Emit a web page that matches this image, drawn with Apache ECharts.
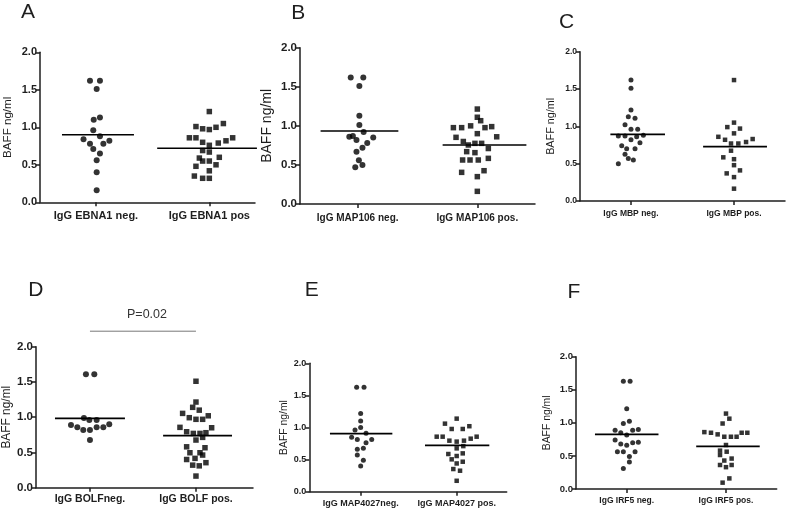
<!DOCTYPE html>
<html>
<head>
    <meta charset="utf-8">
    <title></title>
    <script src="https://cdn.jsdelivr.net/npm/echarts@6.0.0/dist/echarts.min.js"></script>
</head>
<body style="margin:0">
    <div id="main" style="width: 787px;height:509px;"></div>
    <script type="text/javascript">
// tick labels of every y axis
var yTicks = [0, 0.5, 1.0, 1.5, 2.0]
var letters = ['A', 'B', 'C', 'D', 'E', 'F']
var yName = 'BAFF ng/ml'
var pText = 'P=0.02'

var catsA = ['IgG EBNA1 neg.', 'IgG EBNA1 pos']
var catsB = ['IgG MAP106 neg.', 'IgG MAP106 pos.']
var catsC = ['IgG MBP neg.', 'IgG MBP pos.']
var catsD = ['IgG BOLFneg.', 'IgG BOLF pos.']
var catsE = ['IgG MAP4027neg.', 'IgG MAP4027 pos.']
var catsF = ['IgG IRF5 neg.', 'IgG IRF5 pos.']

// [horizontal spread around the group, BAFF value]
var negA = [[-0.053,1.62],[0.035,1.62],[0.006,1.51],[-0.02,1.10],[0.035,1.13],[-0.024,0.96],[0.035,0.88],[-0.11,0.84],[0.118,0.82],[-0.053,0.78],[0.065,0.78],[-0.024,0.71],[0.035,0.65],[0.006,0.56],[0.006,0.40],[0.006,0.16]]
var posA = [[0,1.21],[-0.118,1.01],[-0.059,0.98],[0,0.97],[0.059,1.00],[0.124,1.05],[-0.176,0.86],[-0.118,0.86],[0.206,0.86],[0.147,0.82],[-0.059,0.80],[0,0.76],[0.079,0.79],[-0.059,0.69],[0,0.67],[-0.088,0.59],[0.088,0.60],[-0.059,0.55],[0,0.55],[-0.118,0.48],[0.059,0.50],[0,0.42],[-0.132,0.35],[-0.059,0.32],[0,0.32]]
var negB = [[-0.058,1.62],[0.047,1.62],[0.014,1.51],[0.014,1.13],[0.014,1.01],[0.05,0.92],[-0.07,0.86],[-0.04,0.87],[0.13,0.85],[-0.01,0.82],[0.08,0.78],[0.04,0.72],[-0.01,0.67],[0.01,0.56],[0.04,0.50],[-0.02,0.47]]
var posB = [[0,1.215],[0,1.11],[0.028,1.066],[-0.2,0.977],[-0.131,0.977],[-0.056,1.0],[0.064,0.977],[0.12,0.99],[0,0.90],[-0.178,0.853],[0.162,0.86],[-0.117,0.80],[-0.075,0.755],[-0.02,0.776],[0.036,0.776],[0.092,0.71],[-0.089,0.67],[-0.02,0.657],[-0.123,0.563],[-0.061,0.563],[0.008,0.563],[0.092,0.584],[-0.131,0.405],[0.056,0.426],[0,0.35],[0,0.162]]
var negC = [[0,1.62],[0,1.51],[0,1.22],[-0.026,1.13],[0.039,1.11],[-0.058,1.02],[0,0.96],[0.065,0.96],[-0.123,0.87],[-0.058,0.87],[0.055,0.86],[0.12,0.88],[0,0.82],[0.087,0.78],[-0.09,0.74],[-0.042,0.70],[0.039,0.70],[-0.058,0.625],[-0.026,0.57],[0.023,0.55],[-0.123,0.50]]
var posC = [[0,1.62],[0,1.05],[-0.065,0.99],[0.058,0.97],[-0.152,0.86],[-0.087,0.82],[0,0.906],[-0.029,0.77],[0.042,0.77],[0.117,0.79],[0.181,0.83],[-0.029,0.674],[-0.104,0.585],[0,0.56],[0,0.48],[-0.071,0.37],[0.058,0.41],[0,0.32],[0,0.165]]
var negD = [[-0.038,1.61],[0.041,1.61],[-0.057,0.99],[-0.006,0.96],[0.063,0.96],[-0.179,0.89],[-0.119,0.856],[-0.063,0.82],[0,0.82],[0.063,0.856],[0.126,0.856],[0.182,0.90],[0,0.676]]
var posD = [[0,1.51],[0,1.215],[-0.031,1.14],[0.031,1.10],[-0.126,1.054],[-0.063,0.993],[0,0.97],[0.063,0.97],[0.116,1.02],[-0.151,0.856],[0.148,0.85],[-0.088,0.794],[-0.025,0.77],[0.038,0.77],[0.094,0.78],[0,0.676],[0.063,0.714],[-0.088,0.58],[0.085,0.567],[-0.057,0.496],[0.038,0.496],[-0.088,0.40],[-0.009,0.416],[0.063,0.463],[-0.031,0.32],[0.031,0.31],[0.094,0.355],[0,0.165]]
var negE = [[-0.042,1.626],[0.035,1.626],[0,1.22],[0,1.10],[0,1.0],[-0.059,0.96],[-0.094,0.847],[-0.035,0.815],[0.056,0.91],[0.115,0.815],[0.056,0.764],[-0.035,0.66],[0.028,0.675],[-0.035,0.57],[0.028,0.49],[0,0.40]]
var posE = [[0,1.138],[-0.122,1.06],[-0.052,0.977],[0.063,0.977],[0.132,1.02],[-0.208,0.857],[-0.146,0.857],[0.208,0.857],[0.146,0.826],[-0.076,0.795],[0,0.78],[0.076,0.795],[0,0.675],[0.069,0.71],[-0.087,0.587],[0,0.556],[0.063,0.597],[-0.052,0.504],[0,0.44],[0.063,0.467],[-0.035,0.353],[0.035,0.327],[0,0.17]]
var negF = [[-0.034,1.627],[0.034,1.627],[0,1.214],[0.027,1.023],[-0.034,0.99],[-0.117,0.89],[-0.06,0.85],[0,0.816],[0.06,0.89],[0.117,0.90],[-0.117,0.74],[-0.06,0.68],[0,0.66],[0.06,0.70],[0.117,0.705],[-0.094,0.564],[-0.034,0.564],[0.084,0.564],[0.027,0.49],[0.027,0.41],[-0.034,0.31]]
var posF = [[0,1.14],[0.034,1.063],[-0.034,0.99],[-0.218,0.86],[-0.151,0.85],[-0.084,0.826],[-0.017,0.79],[0.05,0.79],[0.107,0.79],[0.158,0.85],[0.215,0.85],[0,0.665],[-0.06,0.58],[0.007,0.564],[-0.06,0.514],[0.057,0.46],[-0.017,0.43],[-0.06,0.363],[0,0.33],[0.057,0.363],[0.034,0.16],[-0.034,0.096]]

// group means (neg, pos)
var meanA = [0.90, 0.72]
var meanB = [0.934, 0.755]
var meanC = [0.893, 0.728]
var meanD = [0.983, 0.738]
var meanE = [0.904, 0.722]
var meanF = [0.826, 0.645]

var pBracketY = 2.22

// layout of each panel
var panels = [
  {cats: catsA, neg: negA, pos: posA, mean: meanA, grid: [40, 52.3, 215, 150], xr: [0.506, 2.403], tick: 11, cat: 11, name: 11.6, gap: 26.5, lm: 8, sym: 6, mw: [[0.30, 0.335], [0.46, 0.42]], lp: [28, 12]},
  {cats: catsB, neg: negB, pos: posB, mean: meanB, grid: [300, 47.7, 235, 156.3], xr: [0.518, 2.482], tick: 11.5, cat: 10, name: 14, gap: 26, lm: 9, sym: 6, mw: [[0.31, 0.34], [0.29, 0.41]], lp: [298.3, 13.3]},
  {cats: catsC, neg: negC, pos: posC, mean: meanC, grid: [580, 51.7, 205, 149.3], xr: [0.505, 2.495], tick: 8.5, cat: 8.5, name: 10.8, gap: 23.7, lm: 8, sym: 5, mw: [[0.20, 0.33], [0.30, 0.32]], lp: [566.7, 22.5]},
  {cats: catsD, neg: negD, pos: posD, mean: meanD, grid: [36, 346.7, 217, 141], xr: [0.491, 2.538], tick: 11.5, cat: 10.5, name: 11.9, gap: 22.5, lm: 6, sym: 6, mw: [[0.33, 0.33], [0.31, 0.34]], lp: [35.8, 290.3]},
  {cats: catsE, neg: negE, pos: posE, mean: meanE, grid: [309.3, 363.3, 197.4, 128.4], xr: [0.465, 2.521], tick: 9, cat: 9, name: 10.4, gap: 20, lm: 7, sym: 5, mw: [[0.32, 0.33], [0.33, 0.34]], lp: [311.7, 290.3]},
  {cats: catsF, neg: negF, pos: posF, mean: meanF, grid: [576, 356.7, 200.7, 132.3], xr: [0.489, 2.511], tick: 9.5, cat: 8.5, name: 10.4, gap: 23.6, lm: 7.5, sym: 5, mw: [[0.32, 0.32], [0.30, 0.34]], lp: [574, 292.5]}
]

var ink = '#1e1e1e'
var font = 'Liberation Sans, Arial, sans-serif'

var grids = [], xAxes = [], yAxes = [], series = [], graphics = []
panels.forEach(function (p, i) {
  grids.push({left: p.grid[0], top: p.grid[1], width: p.grid[2], height: p.grid[3], containLabel: false})
  xAxes.push({
    type: 'value', gridIndex: i, min: p.xr[0], max: p.xr[1],
    axisLine: {show: true, onZero: false, lineStyle: {color: ink, width: 1.5}},
    axisTick: {show: true, customValues: [1, 2], length: 4, lineStyle: {color: ink, width: 1.5}},
    axisLabel: {show: true, customValues: [1, 2], margin: p.lm, color: ink, fontWeight: 'bold', fontSize: p.cat, fontFamily: font,
      formatter: function (v) { return p.cats[Math.round(v) - 1] }},
    splitLine: {show: false}
  })
  yAxes.push({
    type: 'value', gridIndex: i, min: yTicks[0], max: yTicks[yTicks.length - 1], interval: 0.5,
    name: yName, nameLocation: 'middle', nameGap: p.gap,
    nameTextStyle: {color: ink, fontSize: p.name, fontFamily: font},
    axisLine: {show: true, onZero: false, lineStyle: {color: ink, width: 1.5}},
    axisTick: {show: true, length: 4, lineStyle: {color: ink, width: 1.5}},
    axisLabel: {margin: 3, color: ink, fontWeight: 'bold', fontSize: p.tick, fontFamily: font,
      formatter: function (v) { return v.toFixed(1) }},
    splitLine: {show: false}
  })
  series.push({
    type: 'scatter', xAxisIndex: i, yAxisIndex: i, symbol: 'circle', symbolSize: p.sym,
    itemStyle: {color: '#000'}, silent: true,
    data: p.neg.map(function (d) { return [1 + d[0], d[1]] })
  })
  series.push({
    type: 'scatter', xAxisIndex: i, yAxisIndex: i, symbol: 'rect', symbolSize: p.sym - 0.5,
    itemStyle: {color: '#000'}, silent: true,
    data: p.pos.map(function (d) { return [2 + d[0], d[1]] })
  })
  ;[0, 1].forEach(function (g) {
    series.push({
      type: 'line', xAxisIndex: i, yAxisIndex: i, symbol: 'none', silent: true,
      lineStyle: {color: '#000', width: 1.6},
      data: [[1 + g - p.mw[g][0], p.mean[g]], [1 + g + p.mw[g][1], p.mean[g]]]
    })
  })
  graphics.push({
    type: 'text', x: p.lp[0], y: p.lp[1],
    style: {text: letters[i], fontSize: 21, fontFamily: font, fill: ink, align: 'center', verticalAlign: 'middle'}
  })
})

// P value bracket in panel D
series.push({
  type: 'line', xAxisIndex: 3, yAxisIndex: 3, symbol: 'none', silent: true, clip: false,
  lineStyle: {color: '#777', width: 1},
  data: [[1, pBracketY], [2, pBracketY]]
})
graphics.push({
  type: 'text', x: 147, y: 315,
  style: {text: pText, fontSize: 12.5, fontFamily: font, fill: '#333', align: 'center', verticalAlign: 'middle'}
})

var myChart = echarts.init(document.getElementById('main'))
myChart.setOption({
  backgroundColor: '#fff',
  animation: false,
  grid: grids,
  xAxis: xAxes,
  yAxis: yAxes,
  series: series,
  graphic: graphics
})
    </script>
</body>
</html>
